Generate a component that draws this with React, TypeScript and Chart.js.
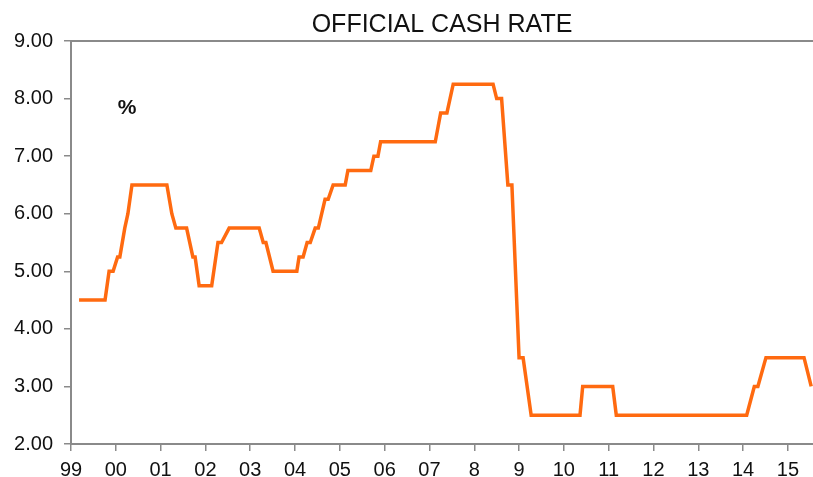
import React, { useEffect, useRef } from 'react';
import { Chart, registerables } from 'chart.js';

Chart.register(...registerables);

const TITLE = 'OFFICIAL CASH RATE';
const UNIT_LABEL = '%';

// Decimal-year positions and OCR values (%)
const years = [
  1999.18, 1999.76, 1999.85, 1999.94, 2000.04, 2000.09, 2000.2, 2000.27, 2000.36,
  2001.14, 2001.25, 2001.34, 2001.58, 2001.72, 2001.77, 2001.86,
  2002.14, 2002.28, 2002.36, 2002.53,
  2003.2, 2003.29, 2003.35, 2003.51,
  2004.04, 2004.09, 2004.18, 2004.27, 2004.34, 2004.45, 2004.52, 2004.67, 2004.74, 2004.85,
  2005.12, 2005.18, 2005.69, 2005.76, 2005.85, 2005.91,
  2007.13, 2007.25, 2007.39, 2007.53,
  2008.42, 2008.5, 2008.61, 2008.75, 2008.84,
  2009.0, 2009.09, 2009.27,
  2010.36, 2010.42, 2011.09, 2011.17,
  2014.08, 2014.25, 2014.33, 2014.51,
  2015.36, 2015.52,
];
const rates = [
  4.5, 4.5, 5.0, 5.0, 5.25, 5.25, 5.75, 6.0, 6.5,
  6.5, 6.0, 5.75, 5.75, 5.25, 5.25, 4.75,
  4.75, 5.5, 5.5, 5.75,
  5.75, 5.5, 5.5, 5.0,
  5.0, 5.25, 5.25, 5.5, 5.5, 5.75, 5.75, 6.25, 6.25, 6.5,
  6.5, 6.75, 6.75, 7.0, 7.0, 7.25,
  7.25, 7.75, 7.75, 8.25,
  8.25, 8.0, 8.0, 6.5, 6.5,
  3.5, 3.5, 2.5,
  2.5, 3.0, 3.0, 2.5,
  2.5, 3.0, 3.0, 3.5,
  3.5, 3.0,
];

const tickYears = [1999, 2000, 2001, 2002, 2003, 2004, 2005, 2006, 2007, 2008, 2009, 2010, 2011, 2012, 2013, 2014, 2015];
const tickLabels = ['99', '00', '01', '02', '03', '04', '05', '06', '07', '8', '9', '10', '11', '12', '13', '14', '15'];

const X_MIN = 1999;
const X_MAX = 2015.56;
const Y_MIN = 2;
const Y_MAX = 9;
const UNIT_POS_X = 2000.25;
const UNIT_POS_Y = 7.84;

const FONT = "'Liberation Sans', Arial, sans-serif";
const AXIS_COLOR = '#8a8a8a';
const LINE_COLOR = '#ff6a10';
const TEXT_COLOR = '#111111';

export default function App() {
  const canvasRef = useRef<HTMLCanvasElement | null>(null);

  useEffect(() => {
    const canvas = canvasRef.current;
    if (!canvas) return;

    const unitPlugin = {
      id: 'unitLabel',
      afterDraw(chart: any) {
        const { ctx, scales } = chart;
        ctx.save();
        ctx.font = `bold 21px ${FONT}`;
        ctx.fillStyle = TEXT_COLOR;
        ctx.textAlign = 'center';
        ctx.textBaseline = 'middle';
        ctx.fillText(UNIT_LABEL, scales.x.getPixelForValue(UNIT_POS_X), scales.y.getPixelForValue(UNIT_POS_Y));
        ctx.restore();
      },
    };

    const chart = new Chart(canvas, {
      type: 'line',
      data: {
        datasets: [
          {
            data: years.map((x, i) => ({ x, y: rates[i] })),
            borderColor: LINE_COLOR,
            borderWidth: 3.5,
            pointRadius: 0,
            tension: 0,
            fill: false,
            borderJoinStyle: 'miter',
          },
        ],
      },
      options: {
        responsive: false,
        animation: false,
        layout: { padding: { left: 0, right: 0, top: 0, bottom: 0 } },
        plugins: {
          legend: { display: false },
          tooltip: { enabled: false },
          title: {
            display: true,
            text: TITLE,
            fullSize: false,
            color: TEXT_COLOR,
            font: { family: FONT, size: 25, weight: 'normal' },
            padding: { top: 10, bottom: 1 },
          },
        },
        scales: {
          x: {
            type: 'linear',
            min: X_MIN,
            max: X_MAX,
            afterBuildTicks: (scale: any) => {
              scale.ticks = tickYears.map((v) => ({ value: v }));
            },
            afterFit: (scale: any) => {
              scale.height = 33;
            },
            ticks: {
              color: TEXT_COLOR,
              font: { family: FONT, size: 20 },
              padding: 7,
              maxRotation: 0,
              autoSkip: false,
              callback: (v: any) => {
                const i = tickYears.indexOf(Number(v));
                return i >= 0 ? tickLabels[i] : '';
              },
            },
            grid: {
              drawOnChartArea: false,
              drawTicks: true,
              tickLength: 7,
              color: AXIS_COLOR,
              lineWidth: 1.5,
            },
            border: { display: true, color: AXIS_COLOR, width: 2 },
          },
          x2: {
            type: 'linear',
            position: 'top',
            min: X_MIN,
            max: X_MAX,
            afterFit: (scale: any) => {
              scale.height = 0;
            },
            ticks: { display: false },
            grid: { drawOnChartArea: false, drawTicks: false },
            border: { display: true, color: AXIS_COLOR, width: 2 },
          },
          y: {
            type: 'linear',
            min: Y_MIN,
            max: Y_MAX,
            afterFit: (scale: any) => {
              scale.width = 71;
            },
            ticks: {
              stepSize: 1,
              color: TEXT_COLOR,
              font: { family: FONT, size: 20 },
              padding: 11,
              callback: (v: any) => Number(v).toFixed(2),
            },
            grid: {
              drawOnChartArea: false,
              drawTicks: true,
              tickLength: 7,
              color: AXIS_COLOR,
              lineWidth: 1.5,
            },
            border: { display: true, color: AXIS_COLOR, width: 2 },
          },
        },
      },
      plugins: [unitPlugin],
    } as any);

    return () => chart.destroy();
  }, []);

  return (
    <div style={{ position: 'fixed', left: 0, top: 0, width: 813, height: 477, background: '#fff' }}>
      <canvas ref={canvasRef} width={813} height={477} style={{ display: 'block' }} />
    </div>
  );
}
